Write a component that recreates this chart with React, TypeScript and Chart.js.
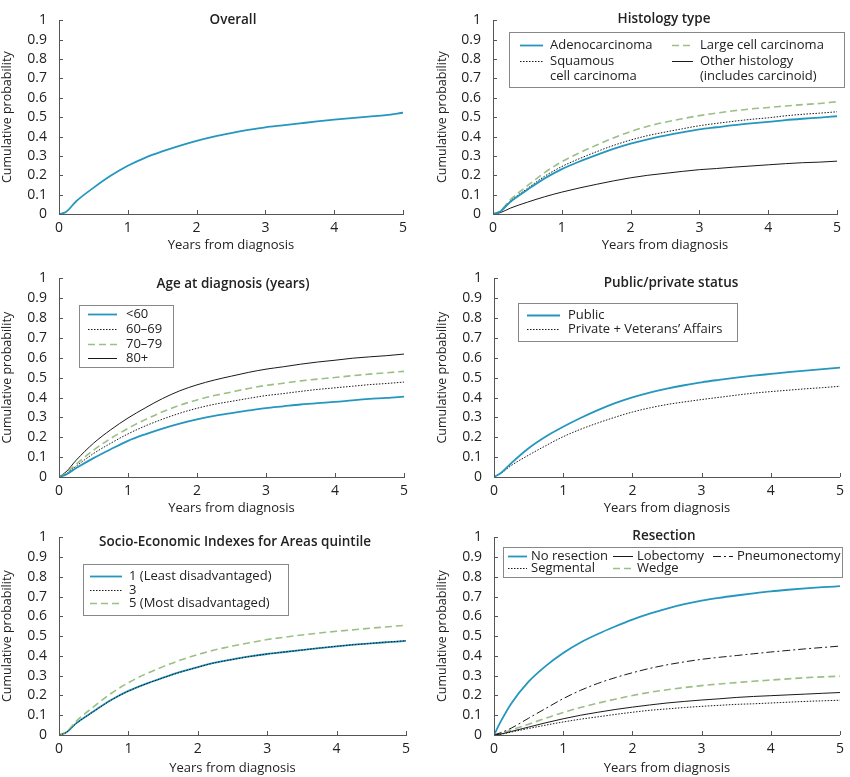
import { useEffect, useRef } from "react";
import { Chart, registerables } from "chart.js";

Chart.register(...registerables);

// years after diagnosis at which the curves were read
const YEARS = [0, 0.1, 0.25, 0.5, 0.75, 1, 1.25, 1.5, 1.75, 2, 2.25, 2.5, 2.75, 3, 3.25, 3.5, 3.75, 4, 4.25, 4.5, 4.75, 5];

const OVERALL = [0, 0.01, 0.066, 0.135, 0.197, 0.249, 0.29, 0.323, 0.352, 0.378, 0.4, 0.418, 0.434, 0.448, 0.458, 0.468, 0.478, 0.487, 0.495, 0.503, 0.511, 0.523];

const ADENO = [0, 0.012, 0.062, 0.125, 0.184, 0.232, 0.27, 0.304, 0.336, 0.363, 0.386, 0.405, 0.422, 0.437, 0.448, 0.459, 0.468, 0.476, 0.485, 0.492, 0.498, 0.505];
const SQUAMOUS = [0, 0.013, 0.066, 0.132, 0.195, 0.245, 0.285, 0.321, 0.354, 0.382, 0.405, 0.423, 0.44, 0.456, 0.468, 0.479, 0.489, 0.497, 0.507, 0.515, 0.521, 0.528];
const LARGE_CELL = [0, 0.014, 0.073, 0.146, 0.214, 0.27, 0.315, 0.355, 0.393, 0.426, 0.453, 0.474, 0.492, 0.508, 0.521, 0.533, 0.543, 0.55, 0.558, 0.565, 0.571, 0.58];
const OTHER_HIST = [0, 0.006, 0.03, 0.061, 0.089, 0.113, 0.134, 0.153, 0.171, 0.187, 0.2, 0.21, 0.22, 0.229, 0.235, 0.242, 0.248, 0.254, 0.26, 0.265, 0.268, 0.273];

const AGE_U60 = [0, 0.012, 0.045, 0.095, 0.14, 0.182, 0.215, 0.244, 0.269, 0.29, 0.308, 0.322, 0.335, 0.347, 0.356, 0.365, 0.372, 0.378, 0.386, 0.393, 0.398, 0.405];
const AGE_60 = [0, 0.015, 0.055, 0.118, 0.17, 0.217, 0.257, 0.291, 0.321, 0.346, 0.366, 0.381, 0.396, 0.41, 0.42, 0.431, 0.441, 0.449, 0.457, 0.465, 0.471, 0.478];
const AGE_70 = [0, 0.018, 0.065, 0.135, 0.194, 0.245, 0.289, 0.328, 0.361, 0.388, 0.41, 0.428, 0.446, 0.461, 0.472, 0.484, 0.493, 0.501, 0.51, 0.518, 0.525, 0.532];
const AGE_80 = [0, 0.025, 0.085, 0.17, 0.238, 0.297, 0.348, 0.395, 0.434, 0.464, 0.488, 0.508, 0.527, 0.543, 0.555, 0.568, 0.579, 0.588, 0.598, 0.605, 0.611, 0.619];

const PUBLIC = [0, 0.02, 0.07, 0.145, 0.204, 0.253, 0.297, 0.337, 0.372, 0.401, 0.425, 0.445, 0.462, 0.477, 0.489, 0.5, 0.51, 0.519, 0.528, 0.536, 0.543, 0.551];
const PRIVATE = [0, 0.018, 0.058, 0.11, 0.158, 0.203, 0.24, 0.272, 0.301, 0.327, 0.348, 0.365, 0.378, 0.39, 0.401, 0.412, 0.422, 0.43, 0.437, 0.444, 0.45, 0.457];

const SEIFA_1 = [0, 0.012, 0.06, 0.12, 0.177, 0.223, 0.259, 0.29, 0.319, 0.344, 0.366, 0.383, 0.398, 0.41, 0.42, 0.43, 0.44, 0.449, 0.457, 0.464, 0.47, 0.476];
const SEIFA_3 = [0, 0.012, 0.059, 0.119, 0.176, 0.222, 0.258, 0.289, 0.318, 0.343, 0.366, 0.382, 0.397, 0.41, 0.42, 0.43, 0.44, 0.449, 0.457, 0.464, 0.471, 0.477];
const SEIFA_5 = [0, 0.014, 0.071, 0.143, 0.21, 0.265, 0.309, 0.346, 0.379, 0.407, 0.431, 0.45, 0.467, 0.483, 0.495, 0.506, 0.516, 0.525, 0.533, 0.541, 0.548, 0.556];

const NO_RESECTION = [0, 0.07, 0.16, 0.27, 0.35, 0.415, 0.468, 0.511, 0.549, 0.584, 0.614, 0.64, 0.662, 0.68, 0.694, 0.706, 0.717, 0.727, 0.735, 0.742, 0.748, 0.753];
const LOBECTOMY = [0, 0.005, 0.018, 0.04, 0.062, 0.082, 0.1, 0.115, 0.129, 0.141, 0.152, 0.162, 0.17, 0.177, 0.183, 0.19, 0.195, 0.199, 0.203, 0.207, 0.211, 0.215];
const PNEUMONECTOMY = [0, 0.012, 0.035, 0.085, 0.135, 0.184, 0.226, 0.261, 0.29, 0.315, 0.337, 0.355, 0.37, 0.383, 0.393, 0.402, 0.411, 0.42, 0.428, 0.436, 0.443, 0.45];
const SEGMENTAL = [0, 0.004, 0.015, 0.033, 0.05, 0.066, 0.08, 0.092, 0.104, 0.115, 0.125, 0.132, 0.139, 0.145, 0.15, 0.155, 0.158, 0.162, 0.166, 0.17, 0.173, 0.176];
const WEDGE = [0, 0.008, 0.025, 0.055, 0.085, 0.114, 0.139, 0.161, 0.181, 0.2, 0.216, 0.229, 0.24, 0.25, 0.258, 0.265, 0.272, 0.278, 0.284, 0.29, 0.294, 0.298];

const FONT = "'Open Sans', sans-serif";
const BLUE = "#2596be";
const GREEN = "#9bbf85";
const BLACK = "#1a1a1a";
const AXIS = "#555";
const TEXT = "#222";

const STYLES: Record<string, any> = {
  blue: { borderColor: BLUE, borderWidth: 1.8 },
  dotted: { borderColor: BLACK, borderWidth: 1, borderDash: [1.5, 1.5] },
  dashed: { borderColor: GREEN, borderWidth: 1.6, borderDash: [7, 4] },
  solid: { borderColor: BLACK, borderWidth: 1 },
  dashDot: { borderColor: BLACK, borderWidth: 1, borderDash: [8, 3, 2, 3] },
};

type Item = { ds: number; x: number; y: number; w: number };
type PanelDef = {
  left: number; top: number; width: number; height: number;
  plot: { l: number; r: number; t: number; b: number };
  padLeft: number;
  titleGap: number;
  title: string; titleX: number; titleY: number;
  series: { label: string; values: number[]; style: string; order?: number }[];
  legend?: { box: number[]; gap: number; items: Item[] };
};

const PANELS: PanelDef[] = [
  {
    left: 0, top: 0, width: 425, height: 258, plot: { l: 59, r: 403, t: 9, b: 214 }, padLeft: 0, titleGap: 31,
    title: "Overall", titleX: 233, titleY: 20,
    series: [{ label: "Overall", values: OVERALL, style: "blue" }],
  },
  {
    left: 425, top: 0, width: 425, height: 258, plot: { l: 68, r: 412, t: 9, b: 214 }, padLeft: 10, titleGap: 31,
    title: "Histology type", titleX: 239, titleY: 19,
    series: [
      { label: "Adenocarcinoma", values: ADENO, style: "blue" },
      { label: "Squamous\ncell carcinoma", values: SQUAMOUS, style: "dotted" },
      { label: "Large cell carcinoma", values: LARGE_CELL, style: "dashed" },
      { label: "Other histology\n(includes carcinoid)", values: OTHER_HIST, style: "solid" },
    ],
    legend: {
      box: [84, 32, 335, 55], gap: 7,
      items: [
        { ds: 0, x: 95, y: 45, w: 23 },
        { ds: 1, x: 95, y: 61, w: 23 },
        { ds: 2, x: 247, y: 45, w: 21 },
        { ds: 3, x: 247, y: 61, w: 21 },
      ],
    },
  },
  {
    left: 0, top: 258, width: 425, height: 259, plot: { l: 59, r: 404, t: 13, b: 219 }, padLeft: 0, titleGap: 31,
    title: "Age at diagnosis (years)", titleX: 233, titleY: 26,
    series: [
      { label: "<60", values: AGE_U60, style: "blue" },
      { label: "60\u201369", values: AGE_60, style: "dotted" },
      { label: "70\u201379", values: AGE_70, style: "dashed" },
      { label: "80+", values: AGE_80, style: "solid" },
    ],
    legend: {
      box: [79, 47, 94, 62], gap: 9,
      items: [
        { ds: 0, x: 88, y: 56, w: 29 },
        { ds: 1, x: 88, y: 71, w: 29 },
        { ds: 2, x: 88, y: 86, w: 29 },
        { ds: 3, x: 88, y: 100, w: 29 },
      ],
    },
  },
  {
    left: 425, top: 258, width: 425, height: 259, plot: { l: 69, r: 415, t: 13, b: 219 }, padLeft: 10, titleGap: 31,
    title: "Public/private status", titleX: 246, titleY: 25,
    series: [
      { label: "Public", values: PUBLIC, style: "blue" },
      { label: "Private + Veterans\u2019 Affairs", values: PRIVATE, style: "dotted" },
    ],
    legend: {
      box: [93, 45, 219, 38], gap: 8,
      items: [
        { ds: 0, x: 102, y: 57, w: 33 },
        { ds: 1, x: 102, y: 71, w: 33 },
      ],
    },
  },
  {
    left: 0, top: 517, width: 425, height: 260, plot: { l: 59, r: 406, t: 13, b: 218 }, padLeft: 0, titleGap: 33,
    title: "Socio-Economic Indexes for Areas quintile", titleX: 235, titleY: 25,
    series: [
      { label: "1 (Least disadvantaged)", values: SEIFA_1, style: "blue", order: 2 },
      { label: "3", values: SEIFA_3, style: "dotted", order: 0 },
      { label: "5 (Most disadvantaged)", values: SEIFA_5, style: "dashed", order: 1 },
    ],
    legend: {
      box: [83, 47, 205, 51], gap: 7,
      items: [
        { ds: 0, x: 90, y: 59, w: 32 },
        { ds: 1, x: 90, y: 73, w: 32 },
        { ds: 2, x: 90, y: 86, w: 32 },
      ],
    },
  },
  {
    left: 425, top: 517, width: 425, height: 260, plot: { l: 69, r: 419, t: 13, b: 218 }, padLeft: 10, titleGap: 33,
    title: "Resection", titleX: 239, titleY: 19,
    series: [
      { label: "No resection", values: NO_RESECTION, style: "blue" },
      { label: "Lobectomy", values: LOBECTOMY, style: "solid" },
      { label: "Pneumonectomy", values: PNEUMONECTOMY, style: "dashDot" },
      { label: "Segmental", values: SEGMENTAL, style: "dotted" },
      { label: "Wedge", values: WEDGE, style: "dashed" },
    ],
    legend: {
      box: [78, 30, 339, 30], gap: 4,
      items: [
        { ds: 0, x: 83, y: 39, w: 19 },
        { ds: 1, x: 188, y: 39, w: 20 },
        { ds: 2, x: 288, y: 39, w: 20 },
        { ds: 3, x: 83, y: 51, w: 19 },
        { ds: 4, x: 188, y: 51, w: 20 },
      ],
    },
  },
];

// title, legend box and inward tick marks, drawn over the chart
const decor = {
  id: "decor",
  afterDraw(chart: any, _args: any, opts: any) {
    const { ctx, chartArea, scales } = chart;
    ctx.save();
    ctx.strokeStyle = AXIS;
    ctx.lineWidth = 1;
    ctx.beginPath();
    scales.y.ticks.forEach((_t: any, i: number) => {
      const py = Math.round(scales.y.getPixelForTick(i)) + 0.5;
      ctx.moveTo(chartArea.left, py);
      ctx.lineTo(chartArea.left + 4, py);
    });
    scales.x.ticks.forEach((_t: any, i: number) => {
      const px = Math.round(scales.x.getPixelForTick(i)) + 0.5;
      ctx.moveTo(px, chartArea.bottom);
      ctx.lineTo(px, chartArea.bottom - 4);
    });
    ctx.stroke();

    ctx.fillStyle = TEXT;
    ctx.font = `600 13.5px ${FONT}`;
    ctx.textAlign = "center";
    ctx.textBaseline = "middle";
    ctx.fillText(opts.title, opts.titleX, opts.titleY);

    const lg = opts.legend;
    if (lg) {
      const [bx, by, bw, bh] = lg.box;
      ctx.strokeStyle = "#888";
      ctx.lineWidth = 1;
      ctx.strokeRect(bx + 0.5, by + 0.5, bw, bh);
      ctx.font = `13px ${FONT}`;
      ctx.textAlign = "left";
      lg.items.forEach((it: Item) => {
        const ds = chart.data.datasets[it.ds];
        ctx.strokeStyle = ds.borderColor;
        ctx.lineWidth = ds.borderWidth;
        ctx.setLineDash(ds.borderDash || []);
        ctx.beginPath();
        ctx.moveTo(it.x, it.y + 0.5);
        ctx.lineTo(it.x + it.w, it.y + 0.5);
        ctx.stroke();
        ctx.setLineDash([]);
        String(ds.label).split("\n").forEach((line, k) => {
          ctx.fillText(line, it.x + it.w + lg.gap, it.y + k * 15);
        });
      });
    }
    ctx.restore();
  },
};

function Panel({ def }: { def: PanelDef }) {
  const ref = useRef<HTMLCanvasElement>(null);

  useEffect(() => {
    if (!ref.current) return;
    const { plot } = def;
    const xHeight = def.titleGap + 7.8;
    const chart = new Chart(ref.current, {
      type: "line",
      data: {
        datasets: def.series.map((s) => ({
          label: s.label,
          data: YEARS.map((x, i) => ({ x, y: s.values[i] })),
          ...STYLES[s.style],
          order: s.order ?? 0,
          pointRadius: 0,
          fill: false,
          cubicInterpolationMode: "monotone" as const,
        })),
      },
      options: {
        animation: false,
        responsive: true,
        maintainAspectRatio: false,
        layout: {
          padding: {
            left: def.padLeft,
            top: plot.t,
            right: def.width - plot.r,
            bottom: def.height - plot.b - xHeight,
          },
        },
        plugins: {
          legend: { display: false },
          tooltip: { enabled: false },
          decor: { title: def.title, titleX: def.titleX, titleY: def.titleY, legend: def.legend },
        } as any,
        scales: {
          x: {
            type: "linear",
            min: 0,
            max: 5,
            afterFit: (s: any) => { s.height = xHeight; },
            grid: { display: false, drawTicks: false },
            border: { display: true, color: AXIS, width: 1 },
            ticks: { stepSize: 1, padding: 6, autoSkip: false, color: TEXT, font: { family: FONT, size: 14 } },
            title: { display: true, text: "Years from diagnosis", color: TEXT, padding: 0, font: { family: FONT, size: 13 } },
          },
          y: {
            min: 0,
            max: 1,
            afterFit: (s: any) => { s.width = plot.l - def.padLeft; },
            grid: { display: false, drawTicks: false },
            border: { display: true, color: AXIS, width: 1 },
            ticks: {
              stepSize: 0.1,
              padding: 12,
              autoSkip: false,
              color: TEXT,
              font: { family: FONT, size: 14 },
              callback: (v: any) => String(Number(Number(v).toFixed(1))),
            },
            title: { display: true, text: "Cumulative probability", color: TEXT, padding: 0, font: { family: FONT, size: 12.5 } },
          },
        },
      },
      plugins: [decor],
    });
    return () => chart.destroy();
  }, [def]);

  return (
    <div style={{ position: "absolute", left: def.left, top: def.top, width: def.width, height: def.height }}>
      <canvas ref={ref} />
    </div>
  );
}

export default function App() {
  return (
    <div style={{ position: "absolute", left: 0, top: 0, width: 850, height: 777, background: "#fff" }}>
      {PANELS.map((p) => (
        <Panel key={p.title} def={p} />
      ))}
    </div>
  );
}
